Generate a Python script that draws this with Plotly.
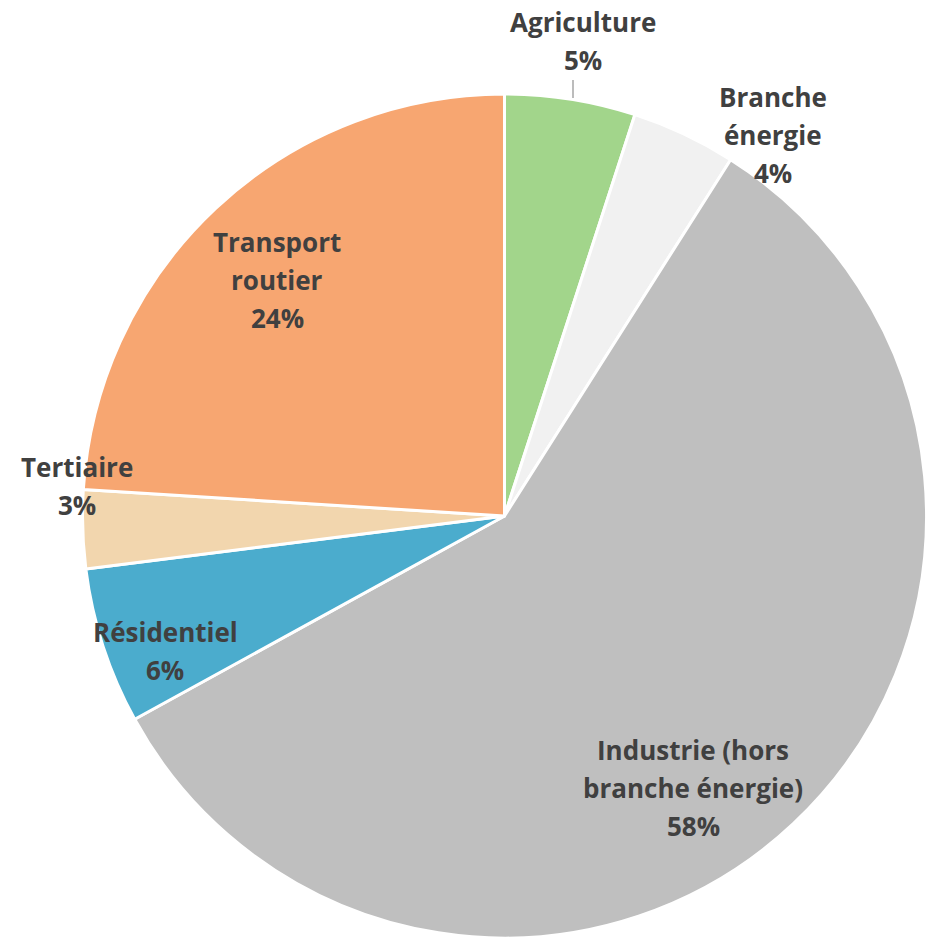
import plotly.graph_objects as go

# Répartition par secteur
sectors = ["Agriculture", "Branche énergie", "Industrie (hors branche énergie)",
           "Résidentiel", "Tertiaire", "Transport routier"]
label_lines = [["Agriculture"], ["Branche", "énergie"], ["Industrie (hors", "branche énergie)"],
               ["Résidentiel"], ["Tertiaire"], ["Transport", "routier"]]
shares = [5, 4, 58, 6, 3, 24]
colors = ["#A2D58B", "#F1F1F1", "#BFBFBF", "#4BACCD", "#F2D6AE", "#F7A671"]

W, H = 930, 938
# label block centres (px from top-left) and line pitch
label_pos = [(583, 22), (773, 97), (693, 750), (165, 632), (77, 467), (277, 242)]
LINE_PITCH = 38
TEXT_COLOR = "#404040"
FONT = "Open Sans"
FONT_SIZE = 26

fig = go.Figure(go.Pie(
    labels=sectors,
    values=shares,
    sort=False,
    direction="clockwise",
    rotation=0,
    marker=dict(colors=colors, line=dict(color="white", width=3)),
    textinfo="none",
    hoverinfo="label+percent",
    domain=dict(x=[81 / W, 928 / W], y=[0, 1 - 94 / H]),
    showlegend=False,
))

annotations = []
for lines, val, (cx, cy) in zip(label_lines, shares, label_pos):
    rows = lines + [f"{val}%"]
    for i, row in enumerate(rows):
        py = cy + i * LINE_PITCH
        annotations.append(dict(
            x=cx / W, y=1 - py / H, xref="paper", yref="paper",
            text=f"<b>{row}</b>", showarrow=False,
            xanchor="center", yanchor="middle",
            font=dict(family=FONT, size=FONT_SIZE, color=TEXT_COLOR),
        ))

# leader line for the small slice at the top
fig.add_shape(type="line", xref="paper", yref="paper",
              x0=573 / W, x1=573 / W, y0=1 - 80 / H, y1=1 - 98 / H,
              line=dict(color="#A6A6A6", width=1.5))

fig.update_layout(
    width=W, height=H,
    margin=dict(l=0, r=0, t=0, b=0),
    paper_bgcolor="white",
    plot_bgcolor="white",
    annotations=annotations,
)

fig.write_html("out.html")
